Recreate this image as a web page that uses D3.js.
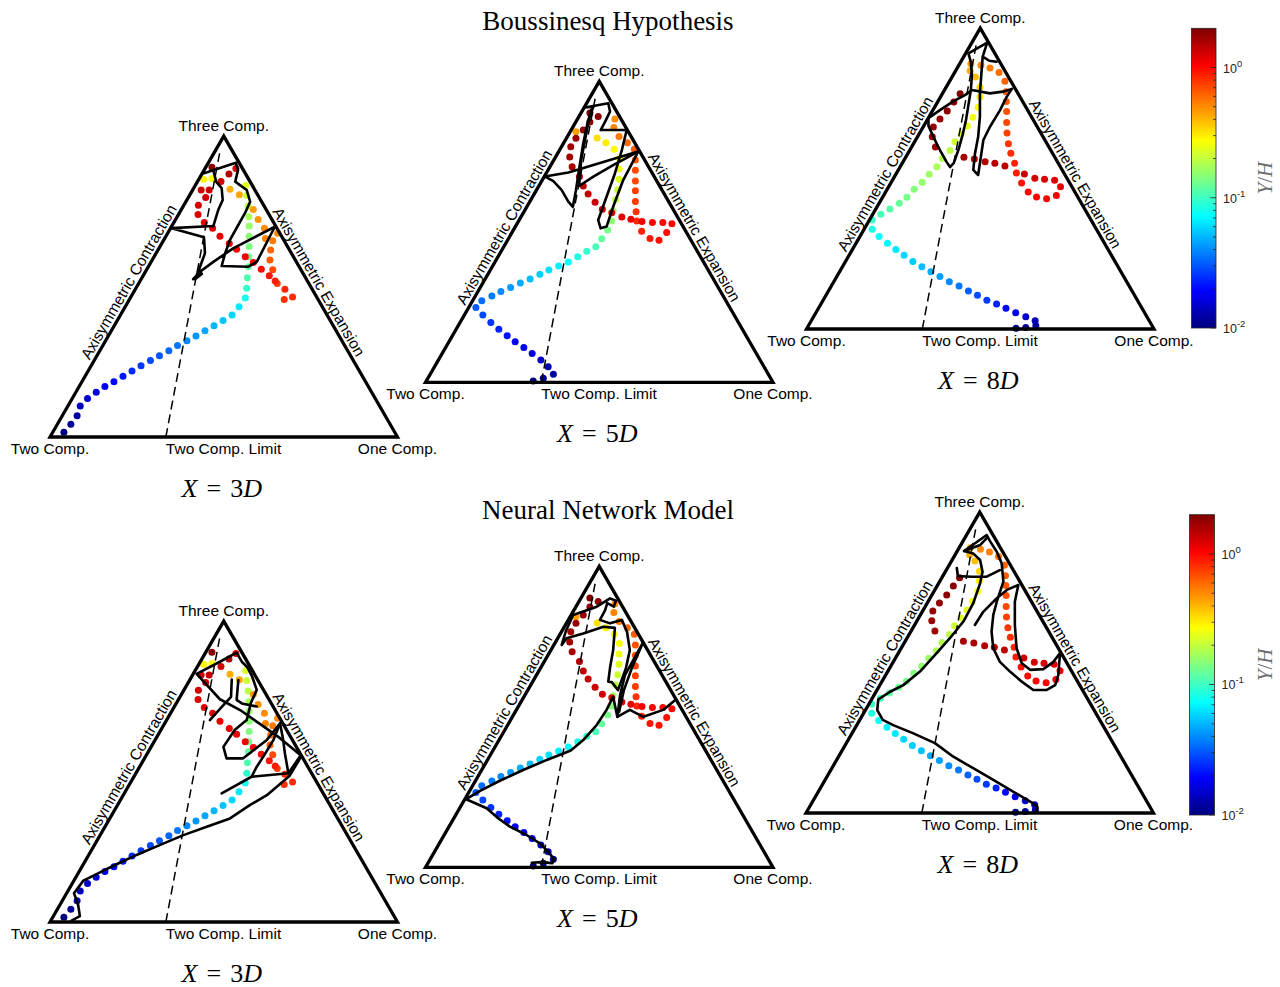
<!DOCTYPE html>
<html>
<head>
<meta charset="utf-8">
<script src="https://cdn.jsdelivr.net/npm/d3@7"></script>
<style>
  body { margin: 0; background: #fff; }
  svg { display: block; }
</style>
</head>
<body>
<svg id="chart" width="1280" height="987"></svg>
<script>
// ---------------------------------------------------------------
// Barycentric anisotropy maps of the Reynolds stress, three
// streamwise stations.  Coordinates are barycentric-map (x, y):
// two-component corner (0,0), one-component corner (1,0),
// three-component corner (0.5, sqrt(3)/2).
// Reference profile points carry their wall distance Y/H.
// ---------------------------------------------------------------

const rowTitles = ["Boussinesq Hypothesis", "Neural Network Model"];
const stationNames = ["3D", "5D", "8D"];
const cornerLabels = ["Two Comp.", "One Comp.", "Three Comp."];
const limitLabel = "Two Comp. Limit";
const edgeLabels = ["Axisymmetric Contraction", "Axisymmetric Expansion"];
const colorDomain = [0.01, 2];
const colorTickMajors = [0.01, 0.1, 1];
const colorTickLabels = ["-2", "-1", "0"];
const colorLabel = ["Y", "/", "H"];

// dashed two-component-limit line
const limitLine = [[1 / 3, 0], [0.488, 0.816]];

// reference profiles [x, y, Y/H]
const dns3D = [
  [0.040,0.014,0.010],[0.060,0.037,0.011],[0.078,0.061,0.012],[0.087,0.089,0.0135],
  [0.108,0.111,0.015],[0.133,0.129,0.0165],[0.158,0.145,0.018],[0.184,0.159,0.020],
  [0.210,0.175,0.022],[0.236,0.190,0.024],[0.262,0.205,0.026],[0.289,0.220,0.028],
  [0.315,0.234,0.030],[0.342,0.248,0.033],[0.367,0.263,0.036],[0.394,0.277,0.039],
  [0.420,0.291,0.042],[0.446,0.306,0.046],[0.472,0.320,0.050],[0.498,0.335,0.054],
  [0.524,0.351,0.059],[0.544,0.375,0.065],[0.562,0.400,0.080],[0.566,0.428,0.095],
  [0.568,0.458,0.11],[0.571,0.490,0.12],[0.572,0.519,0.13],[0.573,0.548,0.14],
  [0.573,0.578,0.15],[0.573,0.607,0.16],[0.572,0.634,0.175],[0.570,0.665,0.19],
  [0.566,0.695,0.21],[0.563,0.724,0.23],[0.466,0.744,0.27],[0.442,0.742,0.29],
  [0.518,0.713,0.42],[0.545,0.697,0.44],[0.585,0.655,0.46],[0.599,0.626,0.48],
  [0.617,0.601,0.50],[0.620,0.571,0.53],[0.655,0.586,0.50],[0.641,0.565,0.55],
  [0.635,0.538,0.60],[0.633,0.509,0.65],[0.641,0.481,0.70],[0.654,0.442,0.75],
  [0.674,0.396,0.80],[0.698,0.403,0.82],[0.676,0.425,0.85],[0.648,0.449,0.90],
  [0.631,0.464,0.95],[0.608,0.483,1.0],[0.585,0.502,1.05],[0.562,0.519,1.1],
  [0.537,0.540,1.1],[0.516,0.557,1.15],[0.489,0.578,1.15],[0.468,0.601,1.2],
  [0.444,0.617,1.2],[0.426,0.640,1.25],[0.427,0.667,1.3],[0.448,0.689,1.35],
  [0.435,0.711,1.3],[0.458,0.711,1.4],[0.492,0.735,1.3],[0.515,0.757,1.5],
  [0.535,0.773,1.2],[0.466,0.776,1.9]
];

const dns5D = [
  [0.310,0.004,0.010],[0.339,0.012,0.011],[0.368,0.023,0.012],[0.353,0.045,0.013],
  [0.332,0.064,0.0145],[0.307,0.083,0.016],[0.283,0.100,0.0175],[0.258,0.117,0.019],
  [0.235,0.134,0.021],[0.211,0.153,0.023],[0.188,0.172,0.025],[0.165,0.194,0.028],
  [0.145,0.215,0.031],[0.162,0.235,0.034],[0.191,0.248,0.037],[0.217,0.261,0.040],
  [0.245,0.273,0.044],[0.273,0.286,0.048],[0.301,0.297,0.052],[0.329,0.311,0.057],
  [0.355,0.323,0.063],[0.383,0.335,0.069],[0.411,0.346,0.076],[0.438,0.361,0.085],
  [0.464,0.377,0.095],[0.490,0.390,0.105],[0.507,0.413,0.12],[0.524,0.438,0.135],
  [0.536,0.464,0.15],[0.540,0.494,0.17],[0.547,0.525,0.19],[0.553,0.554,0.21],
  [0.557,0.584,0.23],[0.557,0.614,0.25],[0.558,0.644,0.26],[0.543,0.671,0.28],
  [0.519,0.689,0.30],[0.494,0.703,0.32],[0.433,0.721,0.45],[0.545,0.758,0.50],
  [0.542,0.733,0.52],[0.557,0.707,0.55],[0.581,0.689,0.60],[0.601,0.671,0.64],
  [0.604,0.640,0.68],[0.604,0.610,0.70],[0.604,0.579,0.72],[0.604,0.551,0.74],
  [0.604,0.520,0.76],[0.606,0.491,0.80],[0.608,0.464,0.85],[0.622,0.435,0.88],
  [0.646,0.414,0.92],[0.672,0.409,0.95],[0.694,0.431,0.97],[0.709,0.456,1.0],
  [0.683,0.460,1.0],[0.653,0.460,1.05],[0.623,0.463,1.1],[0.591,0.469,1.15],
  [0.565,0.476,1.2],[0.536,0.488,1.25],[0.509,0.498,1.3],[0.488,0.518,1.35],
  [0.468,0.542,1.4],[0.454,0.565,1.45],[0.443,0.592,1.55],[0.422,0.620,1.6],
  [0.415,0.648,1.65],[0.418,0.678,1.7],[0.433,0.702,1.75],[0.454,0.726,1.8],
  [0.473,0.749,1.85],[0.497,0.765,1.9],[0.473,0.775,1.95]
];

const dns8D = [
  [0.603,0.002,0.010],[0.631,0.004,0.011],[0.660,0.009,0.012],[0.658,0.024,0.013],
  [0.631,0.035,0.015],[0.602,0.047,0.017],[0.574,0.060,0.020],[0.547,0.072,0.023],
  [0.519,0.083,0.026],[0.492,0.097,0.029],[0.466,0.109,0.032],[0.439,0.124,0.036],
  [0.411,0.136,0.040],[0.384,0.151,0.044],[0.358,0.165,0.048],[0.332,0.179,0.052],
  [0.306,0.194,0.056],[0.281,0.212,0.060],[0.257,0.229,0.065],[0.233,0.247,0.070],
  [0.209,0.266,0.075],[0.189,0.287,0.085],[0.189,0.314,0.095],[0.214,0.330,0.105],
  [0.240,0.345,0.115],[0.267,0.362,0.125],[0.289,0.379,0.135],[0.310,0.402,0.145],
  [0.333,0.422,0.155],[0.353,0.445,0.165],[0.375,0.467,0.175],[0.391,0.491,0.185],
  [0.413,0.514,0.195],[0.427,0.539,0.21],[0.445,0.561,0.225],[0.463,0.584,0.24],
  [0.479,0.609,0.255],[0.494,0.638,0.27],[0.499,0.668,0.30],[0.499,0.696,0.33],
  [0.486,0.725,0.38],[0.471,0.743,0.42],[0.473,0.763,0.46],[0.502,0.759,0.50],
  [0.528,0.751,0.54],[0.554,0.738,0.58],[0.571,0.713,0.62],[0.574,0.683,0.64],
  [0.575,0.655,0.66],[0.576,0.626,0.68],[0.576,0.594,0.71],[0.577,0.564,0.74],
  [0.581,0.533,0.78],[0.588,0.506,0.82],[0.599,0.477,0.86],[0.604,0.449,0.90],
  [0.619,0.420,0.94],[0.638,0.394,0.98],[0.662,0.380,1.02],[0.691,0.375,1.06],
  [0.719,0.384,1.1],[0.731,0.409,1.15],[0.714,0.428,1.2],[0.685,0.431,1.25],
  [0.657,0.434,1.3],[0.627,0.446,1.35],[0.571,0.469,1.45],[0.542,0.477,1.5],
  [0.514,0.481,1.55],[0.483,0.489,1.6],[0.453,0.494,1.65],[0.371,0.524,1.72],
  [0.362,0.553,1.75],[0.365,0.581,1.78],[0.384,0.604,1.82],[0.405,0.627,1.86],
  [0.424,0.653,1.9],[0.442,0.677,1.95]
];

// model trajectories (list of strokes, each a list of [x, y])
const boussinesq3D = [[
  [0.412,0.454],[0.432,0.476],[0.437,0.469],[0.417,0.454],[0.430,0.485],[0.446,0.529],
  [0.443,0.575],[0.350,0.601],[0.470,0.607],[0.484,0.653],[0.497,0.682],[0.494,0.716],
  [0.478,0.735],[0.470,0.768],[0.443,0.759],[0.535,0.789],[0.541,0.768],[0.533,0.735],
  [0.566,0.711],[0.576,0.677],[0.561,0.644],[0.539,0.605],[0.518,0.567],[0.504,0.529],
  [0.494,0.492],[0.571,0.490],[0.595,0.504],[0.647,0.605],[0.527,0.543],[0.470,0.504],
  [0.432,0.476]
]];

const boussinesq5D = [
  [[0.424,0.505],[0.433,0.553],[0.443,0.620],[0.454,0.688],[0.466,0.745],[0.477,0.784],
   [0.483,0.793],[0.471,0.760],[0.460,0.702],[0.448,0.640],[0.442,0.565],[0.483,0.592],
   [0.540,0.625],[0.612,0.664],[0.483,0.625],[0.411,0.604],[0.344,0.592],[0.368,0.579],
   [0.392,0.553],[0.411,0.520],[0.424,0.505]],
  [[0.483,0.793],[0.459,0.791],[0.526,0.803],[0.531,0.779],[0.517,0.750],[0.504,0.726],
   [0.579,0.726],[0.565,0.668],[0.545,0.601],[0.521,0.534],[0.497,0.467],[0.504,0.443],
   [0.521,0.448],[0.540,0.505],[0.569,0.582],[0.612,0.664]]
];

const boussinesq8D = [[
  [0.547,0.769],[0.526,0.772],[0.507,0.784],[0.520,0.824],[0.466,0.793],[0.473,0.768],
  [0.476,0.731],[0.473,0.688],[0.466,0.645],[0.459,0.601],[0.449,0.558],[0.437,0.515],
  [0.424,0.478],[0.413,0.466],[0.403,0.481],[0.384,0.515],[0.365,0.553],[0.351,0.584],
  [0.351,0.607],[0.384,0.630],[0.422,0.655],[0.456,0.673],[0.476,0.688],[0.528,0.678],
  [0.565,0.683],[0.591,0.691],[0.576,0.668],[0.557,0.630],[0.528,0.582],[0.509,0.544],
  [0.499,0.477],[0.494,0.443],[0.480,0.458],[0.485,0.506],[0.494,0.553],[0.499,0.611],
  [0.499,0.678],[0.504,0.745],[0.507,0.784]
]];

const network3D = [
  [[0.062,0.004],[0.086,0.017],[0.081,0.049],[0.069,0.083],[0.096,0.119],[0.134,0.138],
   [0.187,0.164],[0.249,0.193],[0.317,0.222],[0.384,0.250],[0.451,0.274],[0.518,0.298],
   [0.576,0.337],[0.624,0.365],[0.689,0.420],[0.724,0.478],[0.662,0.529],[0.604,0.570],
   [0.547,0.610],[0.489,0.641],[0.422,0.714],[0.489,0.749],[0.537,0.775],[0.552,0.749],
   [0.568,0.733],[0.581,0.708],[0.595,0.668],[0.578,0.630],[0.566,0.581],[0.532,0.553],
   [0.499,0.504],[0.508,0.471],[0.556,0.471],[0.624,0.524],[0.662,0.572],[0.643,0.524],
   [0.614,0.476],[0.595,0.447],[0.580,0.418],[0.494,0.370]],
  [[0.580,0.418],[0.633,0.423],[0.686,0.428],[0.719,0.476]],
  [[0.523,0.698],[0.521,0.648],[0.499,0.624],[0.460,0.581]],
  [[0.542,0.696],[0.537,0.639],[0.552,0.629],[0.595,0.620]],
  [[0.662,0.572],[0.671,0.524],[0.676,0.485],[0.686,0.428]]
];

const network5D = [
  [[0.306,0.013],[0.334,0.015],[0.365,0.012],[0.370,0.023],[0.353,0.045],[0.329,0.069],
   [0.291,0.093],[0.243,0.117],[0.209,0.141],[0.176,0.170],[0.117,0.196],[0.157,0.220],
   [0.214,0.249],[0.281,0.280],[0.349,0.309],[0.418,0.336],[0.454,0.366],[0.493,0.410],
   [0.521,0.453],[0.540,0.491],[0.552,0.433],[0.588,0.453],[0.627,0.433],[0.684,0.453],
   [0.718,0.481]],
  [[0.552,0.433],[0.560,0.496],[0.574,0.553],[0.625,0.645],[0.594,0.574],[0.571,0.510],
   [0.557,0.447]],
  [[0.526,0.534],[0.531,0.574],[0.540,0.625],[0.545,0.689],[0.512,0.692],[0.454,0.673],
   [0.406,0.659],[0.392,0.640],[0.404,0.680],[0.425,0.726],[0.493,0.750],[0.531,0.774],
   [0.548,0.767],[0.542,0.750],[0.523,0.760],[0.517,0.740],[0.502,0.712],[0.531,0.702],
   [0.565,0.712],[0.580,0.677],[0.588,0.625],[0.577,0.574],[0.554,0.510],[0.536,0.533],
   [0.526,0.534]]
];

const network8D = [
  [[0.664,0.003],[0.666,0.018],[0.650,0.030],[0.597,0.061],[0.539,0.095],[0.481,0.129],
   [0.424,0.162],[0.371,0.201],[0.309,0.229],[0.251,0.253],[0.221,0.268],[0.205,0.296],
   [0.208,0.327],[0.242,0.349],[0.280,0.368],[0.328,0.407],[0.376,0.460],[0.414,0.503],
   [0.453,0.551],[0.481,0.603],[0.501,0.661],[0.508,0.694],[0.501,0.728],[0.481,0.747],
   [0.455,0.754],[0.520,0.800],[0.529,0.783],[0.549,0.752],[0.563,0.719],[0.568,0.666],
   [0.549,0.608],[0.539,0.570],[0.534,0.522],[0.539,0.474],[0.558,0.435],[0.587,0.407],
   [0.621,0.378],[0.654,0.354],[0.693,0.354],[0.717,0.368],[0.726,0.397],[0.731,0.460],
   [0.712,0.435],[0.683,0.414],[0.645,0.412],[0.621,0.431],[0.606,0.474],[0.601,0.541],
   [0.601,0.608],[0.611,0.656],[0.578,0.642],[0.549,0.618],[0.510,0.579],[0.486,0.541]],
  [[0.434,0.705],[0.437,0.682],[0.477,0.680],[0.520,0.680],[0.558,0.699]],
  [[0.455,0.754],[0.501,0.771],[0.522,0.793]]
];

// ---------------------------------------------------------------
// layout
// ---------------------------------------------------------------
const SIDE = 347.5;                 // triangle side in px
const H3 = Math.sqrt(3) / 2;        // height of the unit map
const corners = [[0, 0], [1, 0], [0.5, H3]];

const panels = [
  { left: 50,    base: 437,   station: 0, dots: dns3D, model: boussinesq3D },
  { left: 425.5, base: 382.3, station: 1, dots: dns5D, model: boussinesq5D },
  { left: 806.5, base: 329,   station: 2, dots: dns8D, model: boussinesq8D },
  { left: 50,    base: 922,   station: 0, dots: dns3D, model: network3D },
  { left: 425.5, base: 867.3, station: 1, dots: dns5D, model: network5D },
  { left: 806,   base: 813,   station: 2, dots: dns8D, model: network8D }
];
const titlePos = [{ x: 608, y: 30 }, { x: 608, y: 518.5 }];
const colorbars = [
  { x: 1191.5, top: 28.3, bottom: 328, w: 24.5 },
  { x: 1189.5, top: 514.7, bottom: 815, w: 25 }
];

const SANS = "'Liberation Sans', Arial, Helvetica, sans-serif";
const SERIF = "'Liberation Serif', 'Times New Roman', serif";

// MATLAB-style jet colormap
function jet(t) {
  const c = v => Math.max(0, Math.min(1, v));
  const r = c(1.5 - Math.abs(4 * t - 3));
  const g = c(1.5 - Math.abs(4 * t - 2));
  const b = c(1.5 - Math.abs(4 * t - 1));
  return d3.rgb(r * 255, g * 255, b * 255).formatHex();
}
const tOf = d3.scaleLog().domain(colorDomain).range([0, 1]).clamp(true);
const colorOf = v => jet(tOf(v));

const svg = d3.select("#chart");

// gradient for colour bars
const defs = svg.append("defs");
const grad = defs.append("linearGradient").attr("id", "jetGrad")
  .attr("x1", 0).attr("y1", 1).attr("x2", 0).attr("y2", 0);
d3.range(0, 65).forEach(i => {
  const t = i / 64;
  grad.append("stop").attr("offset", t).attr("stop-color", jet(t));
});

// titles
rowTitles.forEach((t, i) => {
  svg.append("text")
    .attr("x", titlePos[i].x).attr("y", titlePos[i].y)
    .attr("text-anchor", "middle")
    .style("font-family", SERIF).style("font-size", "27px")
    .attr("fill", "#000").text(t);
});

// panels
panels.forEach(p => {
  const g = svg.append("g");
  const x = d3.scaleLinear().domain([0, 1]).range([p.left, p.left + SIDE]);
  const y = d3.scaleLinear().domain([0, 1]).range([p.base, p.base - SIDE]);
  const line = d3.line().x(d => x(d[0])).y(d => y(d[1]));

  // reference profile points
  g.append("g").selectAll("circle").data(p.dots).join("circle")
    .attr("cx", d => x(d[0])).attr("cy", d => y(d[1]))
    .attr("r", 3.5).attr("fill", d => colorOf(d[2]));

  // dashed two-component limit line
  g.append("path").attr("d", line(limitLine))
    .attr("fill", "none").attr("stroke", "#000")
    .attr("stroke-width", 1.5).attr("stroke-dasharray", "9,5");

  // model trajectory
  g.append("g").selectAll("path").data(p.model).join("path")
    .attr("d", d => line(d))
    .attr("fill", "none").attr("stroke", "#000")
    .attr("stroke-width", 2.6).attr("stroke-linejoin", "round")
    .attr("stroke-linecap", "round");

  // triangle outline
  g.append("path").attr("d", line(corners) + "Z")
    .attr("fill", "none").attr("stroke", "#000")
    .attr("stroke-width", 3.3).attr("stroke-linejoin", "miter");

  const lab = (tx, ty, text, anchor) => g.append("text")
    .attr("x", tx).attr("y", ty).attr("text-anchor", anchor)
    .style("font-family", SANS).style("font-size", "15.5px")
    .attr("fill", "#000").text(text);

  // corner labels
  lab(x(0), p.base + 16.5, cornerLabels[0], "middle");
  lab(x(1), p.base + 16.5, cornerLabels[1], "middle");
  lab(x(0.5), y(H3) - 5, cornerLabels[2], "middle");
  lab(x(limitLine[0][0]), p.base + 16.5, limitLabel, "start");

  // edge labels
  const off = 4;
  const lm = [x(0.25), y(H3 / 2)];
  g.append("text")
    .attr("transform", `translate(${lm[0] - 0.866 * off},${lm[1] - 0.5 * off}) rotate(-60)`)
    .attr("text-anchor", "middle")
    .style("font-family", SANS).style("font-size", "15.5px")
    .text(edgeLabels[0]);
  const rm = [x(0.75), y(H3 / 2)];
  g.append("text")
    .attr("transform", `translate(${rm[0] + 0.866 * off},${rm[1] - 0.5 * off}) rotate(60)`)
    .attr("text-anchor", "middle")
    .style("font-family", SANS).style("font-size", "15.5px")
    .text(edgeLabels[1]);

  // station caption  X = nD
  const name = stationNames[p.station];
  const cap = g.append("text")
    .attr("x", x(0.5) - 2).attr("y", p.base + 60)
    .attr("text-anchor", "middle")
    .style("font-family", SERIF).style("font-size", "26px")
    .attr("fill", "#000");
  cap.append("tspan").style("font-style", "italic").text("X");
  cap.append("tspan").attr("dx", 9).text("=");
  cap.append("tspan").attr("dx", 9).text(name.slice(0, -1));
  cap.append("tspan").style("font-style", "italic").text(name.slice(-1));
});

// colour bars
colorbars.forEach(cb => {
  const g = svg.append("g");
  const s = d3.scaleLog().domain(colorDomain).range([cb.bottom, cb.top]);
  g.append("rect")
    .attr("x", cb.x).attr("y", cb.top)
    .attr("width", cb.w).attr("height", cb.bottom - cb.top)
    .attr("fill", "url(#jetGrad)")
    .attr("stroke", "#262626").attr("stroke-width", 0.8);

  const right = cb.x + cb.w;
  const ticks = s.ticks().filter(v => v > colorDomain[0] * 0.999 && v < colorDomain[1] * 0.999);
  g.selectAll("line.tick").data(ticks).join("line")
    .attr("class", "tick")
    .attr("x1", right).attr("x2", d => right - (colorTickMajors.some(m => Math.abs(m - d) < 1e-9) ? 5.5 : 3))
    .attr("y1", d => s(d)).attr("y2", d => s(d))
    .attr("stroke", "#262626").attr("stroke-width", 0.8);

  colorTickMajors.forEach((m, i) => {
    const t = g.append("text")
      .attr("x", right + 7).attr("y", s(m) + 5)
      .style("font-family", SANS).style("font-size", "12.5px")
      .attr("fill", "#262626");
    t.append("tspan").text("10");
    t.append("tspan").attr("dy", -6).style("font-size", "9.5px").text(colorTickLabels[i]);
  });

  const mid = (cb.top + cb.bottom) / 2;
  const lt = g.append("text")
    .attr("transform", `translate(1272,${mid}) rotate(-90)`)
    .attr("text-anchor", "middle")
    .style("font-family", SERIF).style("font-size", "21px")
    .attr("fill", "#6e6e6e");
  lt.append("tspan").style("font-style", "italic").text(colorLabel[0]);
  lt.append("tspan").text(colorLabel[1]);
  lt.append("tspan").style("font-style", "italic").text(colorLabel[2]);
});
</script>
</body>
</html>
